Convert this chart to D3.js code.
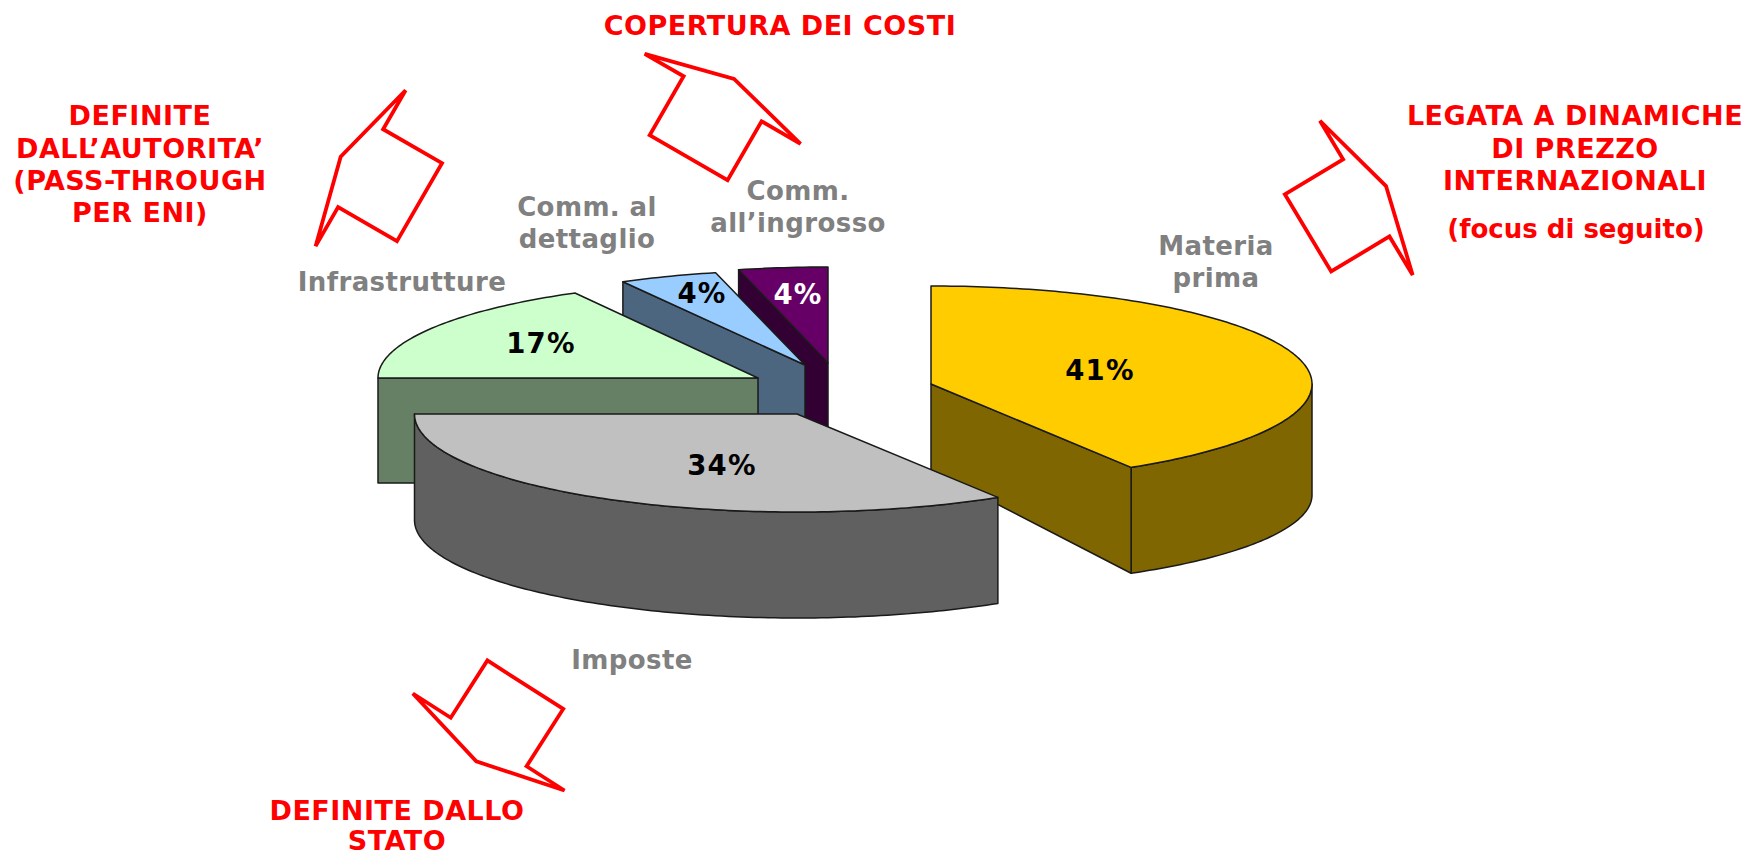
<!DOCTYPE html>
<html><head>
<meta charset="utf-8">
<title>Composizione del prezzo</title>
<script src="https://d3js.org/d3.v7.min.js"></script>
<style>
  html, body { margin: 0; background: #fff; }
  text { font-family: "DejaVu Sans", Verdana, sans-serif; font-weight: bold; text-anchor: middle; }
  .slice path { stroke: #1a1a1a; stroke-width: 1.5px; stroke-linejoin: round; }
  .arrow { fill: none; stroke: #ff0000; stroke-width: 3.8px; stroke-linejoin: miter; }
  .cat { fill: #808080; font-size: 26px; letter-spacing: 0.4px; }
  .pct { font-size: 27.5px; letter-spacing: 1.2px; }
  .note { fill: #ff0000; font-size: 27px; letter-spacing: 0.5px; }
  .note.small { font-size: 26px; letter-spacing: 0; }
</style>
</head>
<body>
<svg id="chart" width="1747" height="855"></svg>
<script>
  // Chart values
  const categories = ["Materia prima", "Imposte", "Infrastrutture", "Comm. al dettaglio", "Comm. all\u2019ingrosso"];
  const shares = [41.2, 33.8, 17, 4.2, 3.8];
  const topColors = ["#ffcc00", "#c0c0c0", "#ccffcc", "#99ccff", "#660066"];
  const sideColors = ["#806600", "#606060", "#668066", "#4d6680", "#330033"];
  const pctColors = ["#000", "#000", "#000", "#000", "#fff"];
  const catLines = [["Materia", "prima"], ["Imposte"], ["Infrastrutture"], ["Comm. al", "dettaglio"], ["Comm.", "all\u2019ingrosso"]];

  // Exploded pie: each slice has its own apex and vertical squash (perspective)
  const sliceLayout = [
    { x: 931, y: 384, rx: 381, ry: 98, rimDrop: 111, rimRy: 92, apexDrop: 86 },
    { x: 797, y: 414, rx: 382.5, ry: 98, rimDrop: 106, rimRy: 98, apexDrop: 106 },
    { x: 758, y: 378, rx: 380, ry: 97, rimDrop: 105, rimRy: 97, apexDrop: 105 },
    { x: 805, y: 365, rx: 378, ry: 95, rimDrop: 100, rimRy: 95, apexDrop: 100 },
    { x: 828, y: 363, rx: 378, ry: 96, rimDrop: 100, rimRy: 96, apexDrop: 100 }
  ];
  const drawOrder = [0, 4, 3, 2, 1];
  const pctPos = [[1100, 370], [722, 465], [541, 343], [702, 293], [798, 294]];
  const catPos = [[1216, 246], [632, 660], [402, 282], [587, 207], [798, 191]];

  // Red annotations
  const noteBlocks = [
    { lines: ["COPERTURA DEI COSTI"], x: 780, y: 26, step: 0 },
    { lines: ["DEFINITE", "DALL\u2019AUTORITA\u2019", "(PASS-THROUGH", "PER ENI)"], x: 140, y: 116, step: 32.3 },
    { lines: ["LEGATA A DINAMICHE", "DI PREZZO", "INTERNAZIONALI"], x: 1575, y: 116, step: 32.3 },
    { lines: ["(focus di seguito)"], x: 1576, y: 229, step: 0, cls: "small" },
    { lines: ["DEFINITE DALLO", "STATO"], x: 397, y: 810.5, step: 30 }
  ];
  const arrows = [
    { x: 688.6, y: 157.7, rot: 30 },
    { x: 419.5, y: 202.2, rot: -60 },
    { x: 1308, y: 232.9, rot: 59 },
    { x: 525.3, y: 684.7, rot: 212.6 }
  ];
  // one block-arrow outline, base centred on the origin and pointing up
  const arrowShape = [[-45, 0], [45, 0], [45, -68], [90, -68], [0, -91], [-90, -68], [-45, -68]];

  const svg = d3.select("#chart");
  const line = d3.line();
  const pie = d3.pie().sort(null);
  const arcs = pie(shares);

  const topPt = (s, a) => [s.x + s.rx * Math.sin(a), s.y - s.ry * Math.cos(a)];
  const lowPt = (s, a) => [s.x + s.rx * Math.sin(a), s.y + s.rimDrop - s.rimRy * Math.cos(a)];
  const sweep = (a0, a1) => d3.range(a0, a1, Math.PI / 180).concat([a1]);

  const slices = svg.selectAll("g.slice").data(drawOrder).join("g").attr("class", "slice");

  slices.each(function(i) {
    const g = d3.select(this);
    const s = sliceLayout[i];
    const a0 = arcs[i].startAngle, a1 = arcs[i].endAngle;
    const apex = [s.x, s.y];
    const apexLow = [s.x, s.y + s.apexDrop];

    // outer rim, only the part that faces the viewer
    const r0 = Math.max(a0, Math.PI / 2), r1 = Math.min(a1, 3 * Math.PI / 2);
    if (r1 > r0) {
      const angles = sweep(r0, r1);
      const rim = angles.map(a => topPt(s, a)).concat(angles.slice().reverse().map(a => lowPt(s, a)));
      g.append("path").attr("fill", sideColors[i]).attr("d", line(rim) + "Z");
    }

    // cut faces
    const faces = [];
    if (a0 > Math.PI && a0 < 2 * Math.PI) faces.push(a0);
    if (a1 > 0 && a1 < Math.PI) faces.push(a1);
    faces.forEach(a => {
      g.append("path").attr("fill", sideColors[i])
        .attr("d", line([apex, topPt(s, a), lowPt(s, a), apexLow]) + "Z");
    });

    // top
    const top = [apex].concat(sweep(a0, a1).map(a => topPt(s, a)));
    g.append("path").attr("fill", topColors[i]).attr("d", line(top) + "Z");
  });

  svg.selectAll("text.pct").data(shares).join("text")
    .attr("class", "pct")
    .attr("x", (d, i) => pctPos[i][0])
    .attr("y", (d, i) => pctPos[i][1])
    .attr("dy", "0.36em")
    .attr("fill", (d, i) => pctColors[i])
    .text(d => Math.round(d) + "%");

  categories.forEach((c, i) => {
    const t = svg.append("text").attr("class", "cat").attr("aria-label", c);
    catLines[i].forEach((l, k) => {
      t.append("tspan").attr("x", catPos[i][0]).attr("y", catPos[i][1] + k * 32).attr("dy", "0.36em").text(l);
    });
  });

  noteBlocks.forEach(b => {
    const t = svg.append("text").attr("class", b.cls ? "note " + b.cls : "note");
    b.lines.forEach((l, k) => {
      t.append("tspan").attr("x", b.x).attr("y", b.y + k * b.step).attr("dy", "0.35em").text(l);
    });
  });

  svg.selectAll("path.arrow").data(arrows).join("path")
    .attr("class", "arrow")
    .attr("transform", d => "translate(" + d.x + "," + d.y + ") rotate(" + d.rot + ")")
    .attr("d", line(arrowShape) + "Z");
</script>
</body>
</html>
